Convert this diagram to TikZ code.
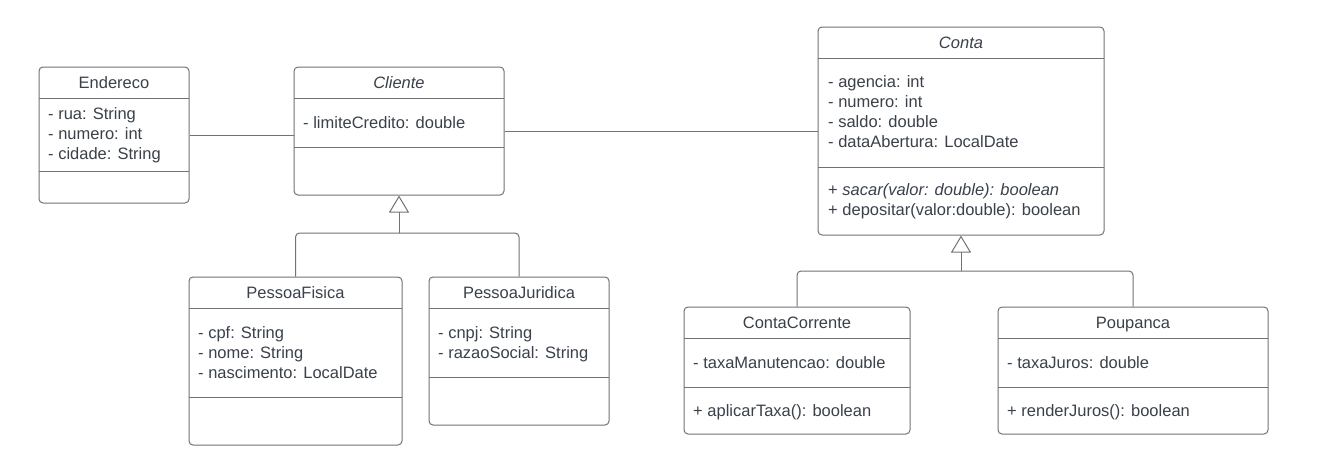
\documentclass[tikz,border=0pt]{standalone}
\usepackage{fontspec}
\setmainfont{Liberation Sans}
\usetikzlibrary{arrows.meta}
\definecolor{linec}{HTML}{6F7378}
\definecolor{textc}{HTML}{3A414A}
\tikzset{
  classbox/.style={draw=linec, line width=1pt, rounded corners=4pt, inner sep=0pt, fill=white},
  sepline/.style={draw=linec, line width=1pt},
  title/.style={text=textc, font=\fontsize{16.5}{20}\selectfont, inner sep=0pt, anchor=base},
  ititle/.style={title, font=\fontsize{16.5}{20}\selectfont\itshape},
  attr/.style={text=textc, font=\fontsize{16.5}{20}\selectfont, inner sep=0pt, anchor=base west},
  iattr/.style={attr, font=\fontsize{16.5}{20}\selectfont\itshape},
  conn/.style={draw=linec, line width=1pt},
  inherit/.style={conn, -{Triangle[open, width=20pt, length=17pt, fill=white]}},
}
\begin{document}
\begin{tikzpicture}[x=1pt, y=-1pt]
\useasboundingbox[fill=white] (0,0) rectangle (1319,472);

% Endereco
\node[classbox, minimum width=150pt, minimum height=136pt] (endereco) at (114,135) {};
\draw[sepline] (39,98) -- (189,98);
\draw[sepline] (39,171) -- (189,171);
\node[title] (enderecoT) at (114,88) {Endereco};
\node[attr] (endereco1) at (48,119) {- rua: String};
\node[attr] (endereco2) at (48,139) {- numero: int};
\node[attr] (endereco3) at (48,159) {- cidade: String};

% Cliente
\node[classbox, minimum width=210pt, minimum height=128pt] (cliente) at (399,131) {};
\draw[sepline] (294,98) -- (504,98);
\draw[sepline] (294,147) -- (504,147);
\node[ititle] (clienteT) at (399,88) {Cliente};
\node[attr] (cliente1) at (303,128) {- limiteCredito: double};

% Conta
\node[classbox, minimum width=286pt, minimum height=208pt] (conta) at (961,131) {};
\draw[sepline] (818,58) -- (1104,58);
\draw[sepline] (818,167) -- (1104,167);
\node[ititle] (contaT) at (961,48) {Conta};
\node[attr] (conta1) at (828,87) {- agencia: int};
\node[attr] (conta2) at (828,107) {- numero: int};
\node[attr] (conta3) at (828,127) {- saldo: double};
\node[attr] (conta4) at (828,147) {- dataAbertura: LocalDate};
\node[attr] (conta5) at (828,195) {+ \textit{sacar(valor: double): boolean}};
\node[attr] (conta6) at (828,215) {+ depositar(valor:double): boolean};

% PessoaFisica
\node[classbox, minimum width=213pt, minimum height=168pt] (pf) at (295.5,361) {};
\draw[sepline] (189,308) -- (402,308);
\draw[sepline] (189,397) -- (402,397);
\node[title] (pfT) at (295.5,298) {PessoaFisica};
\node[attr] (pf1) at (198,338) {- cpf: String};
\node[attr] (pf2) at (198,358) {- nome: String};
\node[attr] (pf3) at (198,378) {- nascimento: LocalDate};

% PessoaJuridica
\node[classbox, minimum width=180pt, minimum height=148pt] (pj) at (519,351) {};
\draw[sepline] (429,308) -- (609,308);
\draw[sepline] (429,377) -- (609,377);
\node[title] (pjT) at (519,298) {PessoaJuridica};
\node[attr] (pj1) at (438,338) {- cnpj: String};
\node[attr] (pj2) at (438,358) {- razaoSocial: String};

% ContaCorrente
\node[classbox, minimum width=226pt, minimum height=127pt] (cc) at (797,370.5) {};
\draw[sepline] (684,338) -- (910,338);
\draw[sepline] (684,387) -- (910,387);
\node[title] (ccT) at (797,328) {ContaCorrente};
\node[attr] (cc1) at (693,368) {- taxaManutencao: double};
\node[attr] (cc2) at (693,416) {+ aplicarTaxa(): boolean};

% Poupanca
\node[classbox, minimum width=270pt, minimum height=127pt] (pp) at (1133,370.5) {};
\draw[sepline] (998,338) -- (1268,338);
\draw[sepline] (998,387) -- (1268,387);
\node[title] (ppT) at (1133,328) {Poupanca};
\node[attr] (pp1) at (1007,368) {- taxaJuros: double};
\node[attr] (pp2) at (1007,416) {+ renderJuros(): boolean};

% associations
\draw[conn] (endereco.east) -- (endereco.east -| cliente.west);
\draw[conn] (cliente.east) -- (conta.west);

% generalisations
\coordinate (clbar) at (399,233);
\coordinate (cobar) at (961,271);
\draw[conn, rounded corners=4pt] (pf.north) |- (clbar);
\draw[conn, rounded corners=4pt] (pj.north) |- (clbar);
\draw[inherit] (clbar) -- (cliente.south);
\draw[conn, rounded corners=4pt] (cc.north) |- (cobar);
\draw[conn, rounded corners=4pt] (pp.north) |- (cobar);
\draw[inherit] (cobar) -- (conta.south);
\end{tikzpicture}
\end{document}
